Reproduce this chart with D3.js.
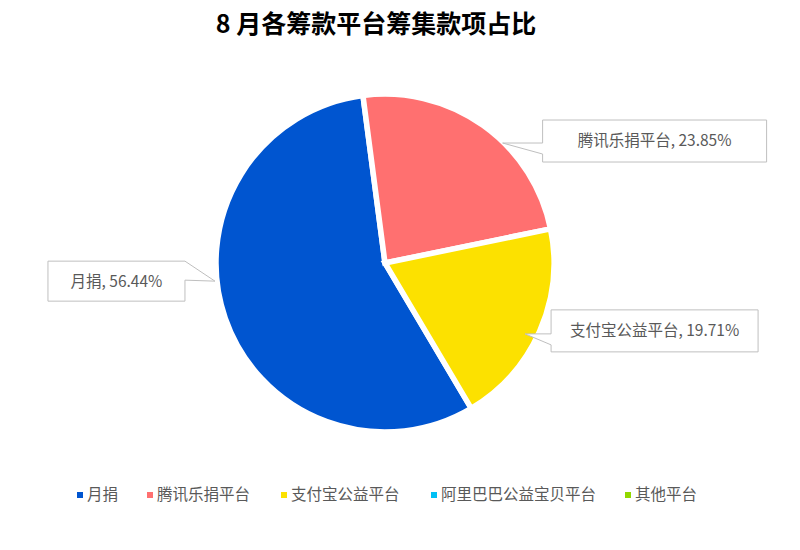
<!DOCTYPE html>
<html>
<head>
<meta charset="utf-8">
<script src="https://cdn.jsdelivr.net/npm/d3@7"></script>
<style>
  body { margin: 0; background: #fff; }
  text { font-family: "Noto Sans CJK SC", "Noto Sans", sans-serif; }
</style>
</head>
<body>
<script>
// data
const categories = ['月捐', '腾讯乐捐平台', '支付宝公益平台', '阿里巴巴公益宝贝平台', '其他平台'];
const shares = [56.44, 23.85, 19.71, 0, 0];
const colors = ['#0055d0', '#ff7070', '#fce100', '#00c0f5', '#92d800'];
const title = '8 月各筹款平台筹集款项占比';

const width = 800, height = 550;
const cx = 385, cy = 263, radius = 169;

// callout layout for the three visible slices (angle nudge, box side, box size)
const calloutLayout = [
  { nudge: 13, r: 171, side: 'left', gap: 30, w: 137, h: 40, dy: 0 },
  { nudge: 9, r: 168, side: 'right', gap: 40, w: 224, h: 42, dy: -2 },
  { nudge: 3, r: 157, side: 'right', gap: 26, w: 207, h: 42, dy: -3 }
];

const svg = d3.select('body').append('svg')
  .attr('width', width)
  .attr('height', height);

svg.append('text')
  .attr('x', 376)
  .attr('y', 33)
  .attr('text-anchor', 'middle')
  .attr('font-size', 25)
  .attr('font-weight', 'bold')
  .attr('fill', '#000')
  .text(title);

// blue slice ends a bit left of 12 o'clock, others follow clockwise
const boundary = -7.5 * Math.PI / 180;
const start = boundary - shares[0] / 100 * 2 * Math.PI;

const pie = d3.pie().sort(null).value(d => d)
  .startAngle(start).endAngle(start + 2 * Math.PI);
const arcs = pie(shares);
const arc = d3.arc().innerRadius(0).outerRadius(radius);

const g = svg.append('g').attr('transform', `translate(${cx},${cy})`);

g.selectAll('path')
  .data(arcs.filter(d => d.value > 0))
  .enter().append('path')
  .attr('d', arc)
  .attr('fill', d => colors[d.index])
  .attr('stroke', '#fff')
  .attr('stroke-width', 5.5)
  .attr('stroke-linejoin', 'miter');

// callouts
arcs.filter(d => d.value > 0).forEach(d => {
  const L = calloutLayout[d.index];
  const a = (d.startAngle + d.endAngle) / 2 + L.nudge * Math.PI / 180;
  const ax = cx + L.r * Math.sin(a);
  const ay = cy - L.r * Math.cos(a);
  const top = ay - L.h / 2 + L.dy;
  const bottom = top + L.h;
  let pts;
  if (L.side === 'right') {
    const x0 = ax + L.gap, x1 = x0 + L.w;
    pts = [[x0, top], [x1, top], [x1, bottom], [x0, bottom],
      [x0, ay + 11], [ax, ay], [x0, ay]];
  } else {
    const x1 = ax - L.gap, x0 = x1 - L.w;
    pts = [[x0, top], [x1, top], [ax, ay], [x1, ay - 1],
      [x1, bottom], [x0, bottom]];
  }
  svg.append('path')
    .attr('d', d3.line()(pts) + 'Z')
    .attr('fill', '#fff')
    .attr('stroke', '#bfbfbf')
    .attr('stroke-width', 1);

  const bx = L.side === 'right' ? ax + L.gap + L.w / 2 : ax - L.gap - L.w / 2;
  svg.append('text')
    .attr('x', bx)
    .attr('y', (top + bottom) / 2)
    .attr('dy', '0.35em')
    .attr('text-anchor', 'middle')
    .attr('font-size', 15.5)
    .attr('fill', '#595959')
    .text(`${categories[d.index]}, ${d3.format('.2f')(d.value)}%`);
});

// legend
const legendX = [77, 147, 281, 431, 625];
const legend = svg.append('g');
categories.forEach((c, i) => {
  const item = legend.append('g').attr('transform', `translate(${legendX[i]},495)`);
  item.append('rect')
    .attr('x', 0).attr('y', -3)
    .attr('width', 6).attr('height', 6)
    .attr('fill', colors[i]);
  item.append('text')
    .attr('x', 10)
    .attr('y', 0)
    .attr('dy', '0.35em')
    .attr('font-size', 15.5)
    .attr('fill', '#595959')
    .text(c);
});
</script>
</body>
</html>
